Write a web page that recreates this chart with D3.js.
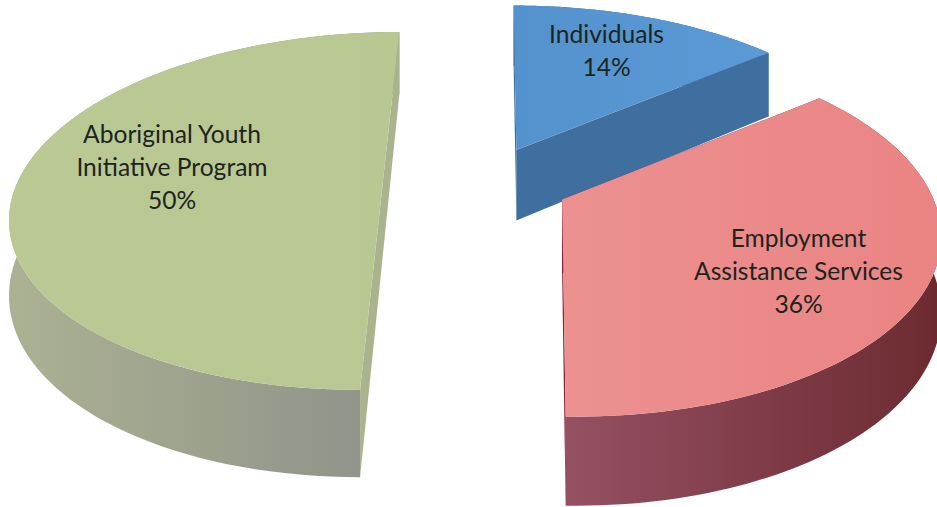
<!DOCTYPE html>
<html><head><meta charset="utf-8">
<script src="https://cdn.jsdelivr.net/npm/d3@7"></script>
<style>html,body{margin:0;padding:0;background:#fff}svg{display:block}</style>
</head><body><svg id="c" width="937" height="507"></svg>
<script>
const categories = ["Individuals", "Employment Assistance Services", "Aboriginal Youth Initiative Program"];
const values = [14, 36, 50];
const labelLines = [["Individuals"], ["Employment", "Assistance Services"], ["Aboriginal Youth", "Initiative Program"]];

// Style and layout, kept apart from the data
const topColors = [["#5392cd", "#5b9ad6"], ["#ec9090", "#ea8483"], ["#bac994", "#b9c892"]];
const wallColors = [["#3d6fa3", "#3a6596"], ["#955062", "#6c2a30"], ["#abb192", "#8e918a"]];
const slabColors = ["#3f6f9f", "#8c1f3c", "#a9b38e"];
const apexes = [[20, 67], [64, -38], [-114, 0]];   // exploded slice apex, world units
const radiusScale = [1.03, 1, 1];                  // the picture's lens distortion, per slice
const turn = [0, 0.022, 0];
const labelAt = [[606.5, 43], [798.5, 247], [172, 143]];
const R = 365, D = 2180, thick = 72.6;
const vp = [497, -858], H = 1039;

const perspective = d3.scaleLinear().domain([0, 1]).range([vp[1], vp[1] + H]);
function project(wx, wy, z) {
  const s = D / (D + wy);
  return [vp[0] + wx * s, perspective(s) + z * s];
}
const svg = d3.select("#c");
const defs = svg.append("defs");
function grad(id, c, x1, x2) {
  const g = defs.append("linearGradient").attr("id", id)
    .attr("gradientUnits", "userSpaceOnUse")
    .attr("x1", x1).attr("x2", x2).attr("y1", 0).attr("y2", 0);
  g.append("stop").attr("offset", 0).attr("stop-color", c[0]);
  g.append("stop").attr("offset", 1).attr("stop-color", c[1]);
  return `url(#${id})`;
}
const line = d3.line();
const pie = d3.pie().sort(null).value(d => d);
const arcs = pie(values);
const N = 90;

arcs.forEach((a, i) => {
  const [ax, ay] = apexes[i];
  const r = R * radiusScale[i];
  const rim = d3.range(N + 1).map(k => {
    const t = a.startAngle + turn[i] + (a.endAngle - a.startAngle) * k / N;
    return [ax + r * Math.sin(t), ay + r * Math.cos(t)];
  });
  const at = z => p => project(p[0], p[1], z);
  const g = svg.append("g").attr("class", "slice");
  const top = rim.map(at(0)), bottom = rim.map(at(thick)).reverse();
  const xs = top.map(p => p[0]);
  // outer wall first, radial side faces over it, top face last
  g.append("path").attr("d", line(top.concat(bottom)) + "Z")
    .attr("fill", grad("w" + i, wallColors[i], d3.min(xs), d3.max(xs)));
  [rim[0], rim[N]].forEach(e => {
    const quad = [project(ax, ay, 0), project(e[0], e[1], 0), project(e[0], e[1], thick), project(ax, ay, thick)];
    g.append("path").attr("d", line(quad) + "Z").attr("fill", slabColors[i]);
  });
  const face = [project(ax, ay, 0)].concat(top);
  g.append("path").attr("d", line(face) + "Z")
    .attr("fill", grad("t" + i, topColors[i], d3.min(xs), d3.max(xs)));
});

// labels
arcs.forEach((a, i) => {
  const lines = labelLines[i].concat(Math.round(a.data) + "%");
  const t = svg.append("text").attr("text-anchor", "middle")
    .attr("font-family", "Lato, 'Open Sans', sans-serif").attr("font-size", 24.6).attr("fill", "#1c2420");
  lines.forEach((l, k) => t.append("tspan").attr("x", labelAt[i][0]).attr("y", labelAt[i][1] + k * 33).text(l));
});
</script></body></html>
